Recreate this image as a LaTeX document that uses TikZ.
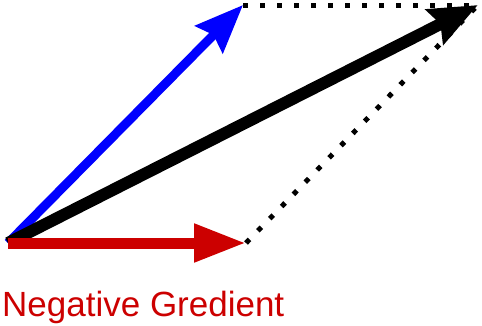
\documentclass[tikz,border=0pt]{standalone}
\usepackage{fontspec}
\setmainfont{Liberation Sans}
\usetikzlibrary{arrows.meta}
\definecolor{redv}{RGB}{204,0,0}
\definecolor{bluev}{RGB}{0,0,255}
\begin{document}
\begin{tikzpicture}[x=1pt,y=1pt,
  vec/.style={line width=#1, -{Stealth[length=48pt,width=38pt,inset=6pt]}},
  dotline/.style={line width=5pt, dash pattern=on 5pt off 12pt}]
\useasboundingbox (0,0) rectangle (482,325);
\coordinate (o) at (8,82);
\coordinate (b) at (243,320);
\coordinate (k) at (478,320);
\coordinate (r) at (246,82);
\draw[dotline] (b) -- (k);
\draw[dotline] (r) -- (k);
\draw[bluev, vec=9pt] (o) -- (b);
\draw[black, vec=12pt] (o) -- (k);
\draw[redv, line width=11pt, -{Triangle[length=52pt,width=36pt]}] (o) -- (r);
\node[anchor=base west, inner sep=0pt, text=redv, font=\fontsize{35}{35}\selectfont] (t) at (2,9) {Negative Gredient};
\end{tikzpicture}
\end{document}
